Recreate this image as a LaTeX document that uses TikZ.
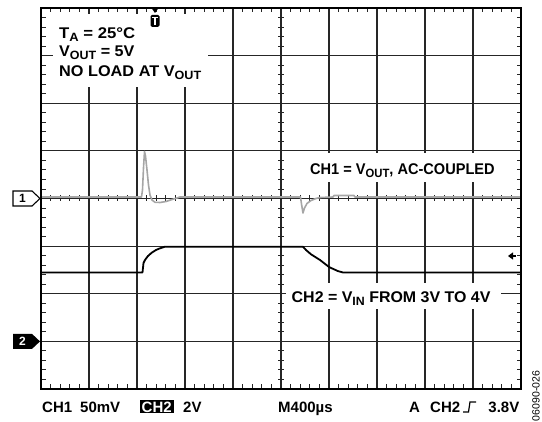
\documentclass[tikz,border=0pt]{standalone}
\usepackage{fontspec}
\usepackage{graphicx}
\setmainfont{Liberation Sans}
\usetikzlibrary{arrows.meta}
\newcommand\lsub[1]{\raisebox{-3pt}{\fontsize{12}{12}\selectfont #1}}
\begin{document}
\begin{tikzpicture}[x=1pt,y=-1pt,
  gridline/.style={line width=1.2pt, black!85},
  frameline/.style={line width=1.6pt, black},
  tickmark/.style={line width=0.9pt, black!85},
  lbl/.style={font=\fontsize{15.5}{18}\selectfont\bfseries, inner sep=0pt, anchor=base west},
  blbl/.style={font=\fontsize{15}{18}\selectfont\bfseries, inner sep=0pt, anchor=base west},
  ch1trace/.style={line width=1.6pt, black!35, line join=round},
  ch2trace/.style={line width=1.8pt, black, line join=round},
  maskbox/.style={fill=white, draw=none}]
\useasboundingbox (0,0) rectangle (542,422);
% grid
\foreach \i in {1,...,9} \draw[gridline] ({41+48*\i},8) -- ({41+48*\i},389);
\foreach \j in {1,...,7} \draw[gridline] (41,{8+47.625*\j}) -- (521,{8+47.625*\j});
% ticks
\foreach \k in {1,...,49} {
  \draw[tickmark] ({41+9.6*\k},8) -- ++(0,4.5);
  \draw[tickmark] ({41+9.6*\k},389) -- ++(0,-4.5);
  \draw[tickmark] ({41+9.6*\k},195.5) -- ++(0,6);
}
\foreach \k in {1,...,39} {
  \draw[tickmark] (41,{8+9.525*\k}) -- ++(4.5,0);
  \draw[tickmark] (521,{8+9.525*\k}) -- ++(-4.5,0);
  \draw[tickmark] (278,{8+9.525*\k}) -- ++(6,0);
}
% text masks
\fill[maskbox] (53,14) rectangle (208,87);
\fill[maskbox] (296,153) rectangle (505,182);
\fill[maskbox] (286,283) rectangle (501,309);
% traces
\draw[ch1trace] (41,197) -- (141.5,197) -- (142.5,190) -- (143.5,168) -- (144.5,151.5) -- (145.5,156) -- (147,170) -- (148.5,185) -- (150,195) -- (152,200) -- (155,202.3) -- (160,202.5) -- (166,201.5) -- (172,199.5) -- (177,198) -- (180,197) -- (300.5,197) -- (301.5,204) -- (303,213) -- (304.5,208) -- (307,203.5) -- (311,200.5) -- (316,198.5) -- (320,197.5) -- (333,197) -- (334,195.5) -- (354,195.5) -- (355,197) -- (521,197);
\draw[ch2trace] (41,272.5) -- (142.5,272.5) -- (143.5,263) -- (145,260) -- (148,256) -- (151.7,252.7) -- (156,250) -- (160,248.3) -- (165,246.7) -- (303,246.7) -- (306,250) -- (311,254.3) -- (320,260) -- (329,267) -- (337.7,271) -- (343,272.5) -- (521,272.5);
% frame
\draw[frameline] (41,8) rectangle (521,389);
% labels
\node[lbl] (ta) at (59,38.5) {\scalebox{1.08}[1]{T\lsub{A} = 25°C}};
\node[lbl] (vout) at (59,57) {\scalebox{1.04}[1]{V\lsub{OUT} = 5V}};
\node[lbl] (noload) at (59,76.5) {\scalebox{1.05}[1]{NO LOAD AT V\lsub{OUT}}};
\node[lbl] (ch1lbl) at (310,175) {\scalebox{0.94}[1]{CH1 = V\lsub{OUT}, AC-COUPLED}};
\node[lbl] (ch2lbl) at (291.5,302.7) {\scalebox{1.03}[1]{CH2 = V\lsub{IN} FROM 3V TO 4V}};
% channel markers
\draw[line width=1.1pt, fill=white] (13,191) -- (32,191) -- (40,198.5) -- (32,206) -- (13,206) -- cycle;
\node[font=\fontsize{12}{12}\selectfont\bfseries, inner sep=0pt] (m1) at (22.5,198.5) {1};
\fill[black] (13,333.9) -- (32,333.9) -- (40,341.4) -- (32,348.9) -- (13,348.9) -- cycle;
\node[font=\fontsize{12}{12}\selectfont\bfseries, text=white, inner sep=0pt] (m2) at (22.5,341.4) {2};
% trigger position marker
\fill[black] (151.5,8) -- (158.5,8) -- (155,13) -- cycle;
\fill[black, rounded corners=1.5pt] (150.5,15) rectangle (159.5,27);
\draw[white, line width=1.4pt] (152.3,17.8) -- (157.7,17.8) (155,17.8) -- (155,25);
% trigger level marker
\draw[line width=1.2pt, -{Triangle[length=5pt,width=7pt]}] (516,256) -- (508,256);
% bottom line
\node[blbl] (b1) at (42,412.5) {CH1};
\node[blbl] (b1v) at (80,412.5) {50mV};
\fill[black] (140,400) rectangle (174,413.5);
\node[blbl, text=white] (b2) at (141.5,412.5) {CH2};
\node[blbl] (b3) at (183,412.5) {2V};
\node[blbl] (b4) at (278,412.5) {M400µs};
\node[blbl] (b5) at (409,412.5) {A};
\node[blbl] (b6) at (430,412.5) {CH2};
\draw[line width=1.2pt] (463,412) -- (468.5,412) -- (470,402) -- (476,402);
\node[blbl, anchor=base east] (b7) at (519.5,412.5) {3.8V};
\node[font=\fontsize{10.5}{12}\selectfont, rotate=90, inner sep=0pt] (code) at (536,396) {06090-026};
\end{tikzpicture}
\end{document}
